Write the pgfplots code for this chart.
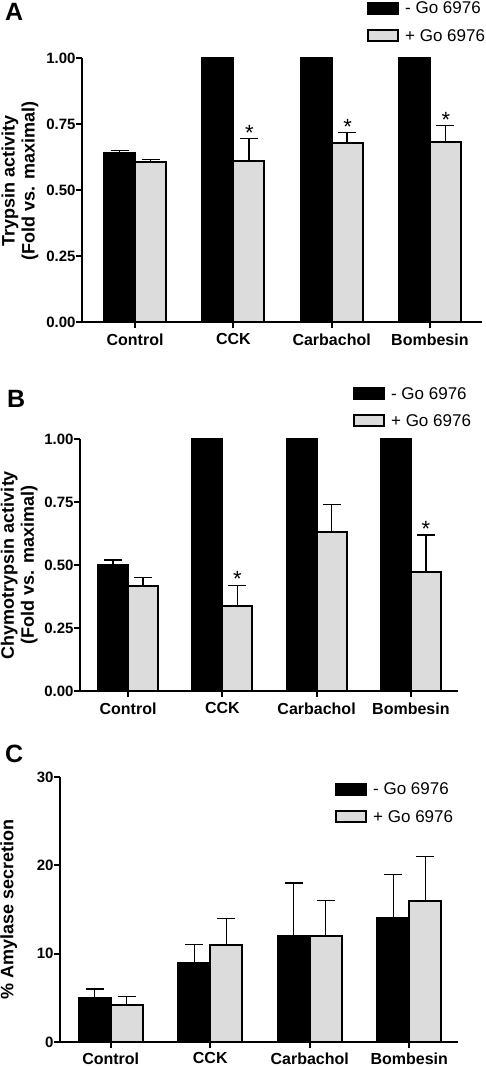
\documentclass[border=0pt]{standalone}
\usepackage{pgfplots}
\pgfplotsset{compat=1.18}
\usepackage{fontspec}
\setmainfont{Liberation Sans}
\definecolor{lgray}{RGB}{220,220,220}
\tikzset{starnode/.style={anchor=south, inner sep=0pt, yshift=-2pt, font=\fontsize{22}{24}\selectfont}}
\pgfplotsset{
 panel/.style={
  scale only axis, axis lines*=left, axis line style={line width=2.2pt},
  ybar=0pt, clip=false,
  xtick={0,1,2,3}, xticklabels={Control,CCK,Carbachol,Bombesin},
  tick align=outside, major tick length=6pt, tick style={line width=2pt, black},
  ymin=0, anchor=south west,
  xticklabel style={font=\bfseries\fontsize{16}{19}\selectfont, yshift=-2pt},
  yticklabel style={font=\bfseries\fontsize{15}{18}\selectfont, xshift=3pt},
  /pgf/number format/assume math mode=true,
  ylabel style={font=\bfseries\fontsize{18}{20}\selectfont, align=center, anchor=center},
  legend style={draw=none, fill=none, font=\fontsize{17}{20}\selectfont, legend cell align=left, row sep=10pt, inner sep=0pt, anchor=north west,
    /tikz/every odd column/.append style={column sep=4pt}},
 },
 errs/.style={error bars/y dir=plus, error bars/y explicit,
  error bars/error bar style={line width=1.3pt, black},
  error bars/error mark options={rotate=90, line width=1.3pt, mark size=9pt, black}},
 blk/.style={fill=black, draw=black, line width=2pt, errs,
  legend image code/.code={\draw[fill=black, draw=black, line width=2pt] (0pt,-5pt) rectangle (30pt,6pt);}},
 gry/.style={fill=lgray, draw=black, line width=2pt, errs,
  legend image code/.code={\draw[fill=lgray, draw=black, line width=2pt] (0pt,-5pt) rectangle (30pt,6pt);}},
}
\begin{document}
\begin{tikzpicture}
\useasboundingbox (0,0) rectangle (486pt,1066pt);
% Panel A
\begin{axis}[panel, at={(82pt,744pt)}, width=400pt, height=264pt,
  xmin=-0.54, xmax=3.53, ymax=1, bar width=31pt,
  ytick={0,0.25,0.5,0.75,1},
  yticklabel style={/pgf/number format/.cd, fixed, fixed zerofill, precision=2},
  ylabel={Trypsin activity\\(Fold vs. maximal)},
  ylabel style={at={(axis description cs:-0.155,0.534)}},
  legend style={at={(axis description cs:0.7125,1.22)}}]
\addplot[blk] coordinates {(0,0.64)+-(0,0.01) (1,1.0)+-(0,0) (2,1.0)+-(0,0) (3,1.0)+-(0,0)};
\addplot[gry] coordinates {(0,0.605)+-(0,0.01) (1,0.61)+-(0,0.086) (2,0.678)+-(0,0.04) (3,0.68)+-(0,0.065)};
\legend{- Go 6976, + Go 6976}
\node[starnode, xshift=16pt] at (axis cs:1,0.696) {*};
\node[starnode, xshift=16pt] at (axis cs:2,0.718) {*};
\node[starnode, xshift=16pt] at (axis cs:3,0.745) {*};
\end{axis}
% Panel B
\begin{axis}[panel, at={(80pt,375pt)}, width=378pt, height=252pt,
  xmin=-0.51, xmax=3.5, ymax=1, bar width=30pt,
  ytick={0,0.25,0.5,0.75,1},
  yticklabel style={/pgf/number format/.cd, fixed, fixed zerofill, precision=2},
  ylabel={Chymotrypsin activity\\(Fold vs. maximal)},
  ylabel style={at={(axis description cs:-0.161,0.5)}},
  legend style={at={(axis description cs:0.722,1.214)}}]
\addplot[blk] coordinates {(0,0.50)+-(0,0.02) (1,1.0)+-(0,0) (2,1.0)+-(0,0) (3,1.0)+-(0,0)};
\addplot[gry] coordinates {(0,0.418)+-(0,0.032) (1,0.337)+-(0,0.083) (2,0.632)+-(0,0.109) (3,0.471)+-(0,0.148)};
\legend{- Go 6976, + Go 6976}
\node[starnode, xshift=15pt] at (axis cs:1,0.42) {*};
\node[starnode, xshift=15pt] at (axis cs:3,0.619) {*};
\end{axis}
% Panel C
\begin{axis}[panel, at={(60pt,24pt)}, width=398pt, height=265pt,
  xmin=-0.51, xmax=3.49, ymax=30, bar width=32pt,
  ytick={0,10,20,30},
  xticklabel style={yshift=1pt},
  ylabel={\% Amylase secretion},
  ylabel style={at={(axis description cs:-0.129,0.5)}},
  legend style={at={(axis description cs:0.691,0.986)}}]
\addplot[blk] coordinates {(0,5)+-(0,1) (1,9)+-(0,2) (2,12)+-(0,6) (3,14)+-(0,5)};
\addplot[gry] coordinates {(0,4.15)+-(0,1.0) (1,11)+-(0,3) (2,12)+-(0,4) (3,16)+-(0,5)};
\legend{- Go 6976, + Go 6976}
\end{axis}
\node[anchor=north west, inner sep=0pt, font=\bfseries\fontsize{25}{30}\selectfont] at (5pt,1063pt) {A};
\node[anchor=north west, inner sep=0pt, font=\bfseries\fontsize{25}{30}\selectfont] at (7pt,676pt) {B};
\node[anchor=north west, inner sep=0pt, font=\bfseries\fontsize{25}{30}\selectfont] at (5pt,321pt) {C};
\end{tikzpicture}
\end{document}
